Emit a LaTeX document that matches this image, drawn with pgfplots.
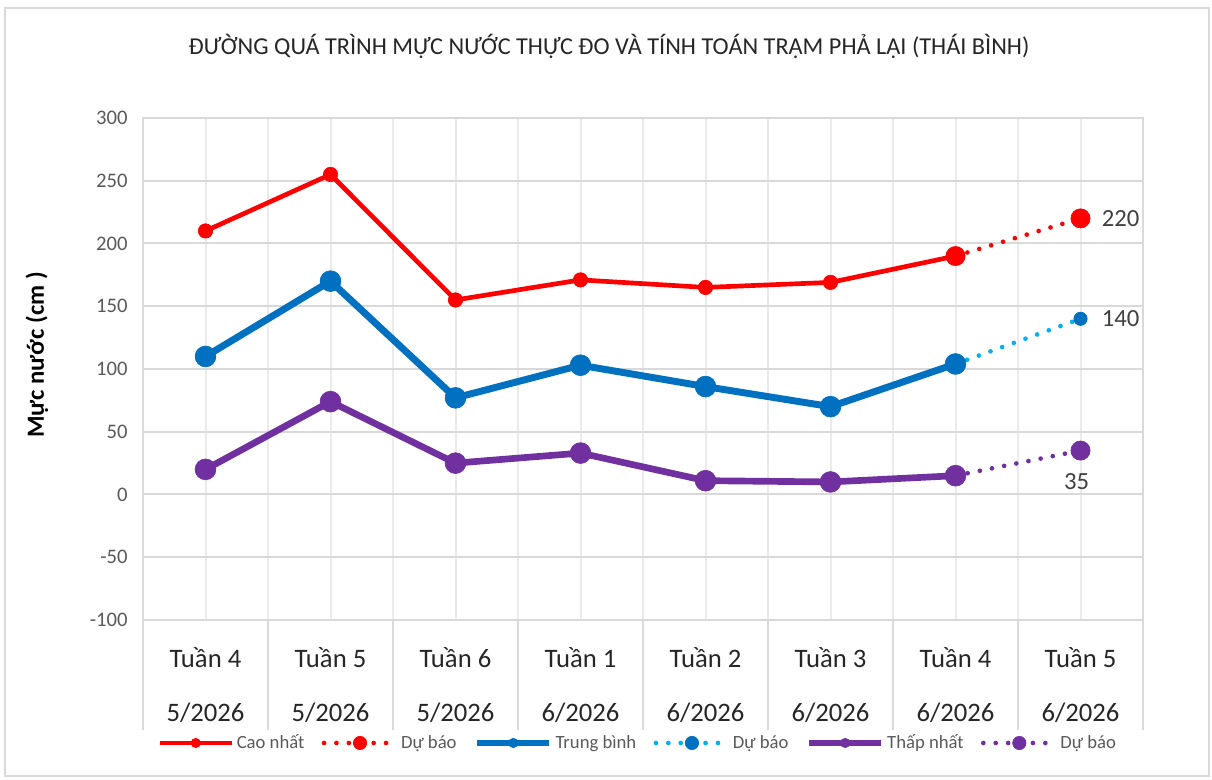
\documentclass[border=0pt]{standalone}
\usepackage{pgfplots}
\pgfplotsset{compat=1.18}
\usepackage{fontspec}
\setmainfont{Carlito}
\definecolor{cred}{HTML}{FF0000}
\definecolor{cblue}{HTML}{0070C0}
\definecolor{clblue}{HTML}{00B0F0}
\definecolor{cpurple}{HTML}{7030A0}
\definecolor{gridc}{HTML}{D9D9D9}
\definecolor{gridv}{HTML}{EBEBEB}
\definecolor{tickc}{HTML}{595959}
\definecolor{titlec}{HTML}{262626}
\definecolor{labc}{HTML}{404040}
\pgfplotsset{
  dotlegend/.style={legend image code/.code={\draw[mark repeat=2,mark phase=2,##1,mark size=5pt] plot coordinates {(0pt,0pt) (27pt,0pt) (54pt,0pt)};}},
  dotlegendb/.style={legend image code/.code={\draw[##1,mark indices={2},mark size=5pt] plot coordinates {(0pt,0pt) (27pt,0pt) (54pt,0pt)};}},
}
\begin{document}
\begin{tikzpicture}
\path (0pt,0pt) rectangle (909pt,585pt);
\draw[gridc, line width=1.5pt] (3.75pt,3pt) rectangle (906.75pt,579pt);
\node[font=\fontsize{18.2}{21}\selectfont, text=titlec] at (456.75pt,550.5pt) {ĐƯỜNG QUÁ TRÌNH MỰC NƯỚC THỰC ĐO VÀ TÍNH TOÁN TRẠM PHẢ LẠI (THÁI BÌNH)};
\begin{axis}[
  at={(107.25pt,120pt)}, anchor=south west,
  scale only axis, width=750pt, height=376.5pt,
  xmin=-0.5, xmax=7.5, ymin=-100, ymax=300,
  ytick={-100,-50,...,300},
  xtick={0,...,7},
  minor xtick={-0.5,0.5,...,7.5},
  xticklabels={{Tuần 4\\5/2026},{Tuần 5\\5/2026},{Tuần 6\\5/2026},{Tuần 1\\6/2026},{Tuần 2\\6/2026},{Tuần 3\\6/2026},{Tuần 4\\6/2026},{Tuần 5\\6/2026}},
  xticklabel style={align=center, font=\fontsize{20}{40.5}\selectfont, text=titlec, yshift=-17pt},
  yticklabel style={font=\fontsize{15.5}{18}\selectfont, text=tickc, xshift=-8pt},
  /pgf/number format/assume math mode=true,
  ymajorgrids, xmajorgrids, xminorgrids,
  major y grid style={gridc, line width=1.5pt},
  major x grid style={gridv, line width=1.5pt},
  minor x grid style={gridv, line width=1.5pt},
  axis line style={gridc, line width=1.5pt},
  tick pos=left, tick align=outside,
  major tick length=0pt,
  minor tick length=82.5pt,
  minor x tick style={gridc, line width=1.5pt},
  every axis y label/.style={at={(axis description cs:-0.106,0.528)}, rotate=90, anchor=center},
  ylabel={Mực nước (cm )},
  ylabel style={font=\fontsize{18.5}{20}\selectfont\bfseries, text=black},
  legend columns=6,
  legend style={at={(axis description cs:0.495,-0.245)}, anchor=center, draw=none, fill=none,
    font=\fontsize{14}{16}\selectfont, text=tickc,
    /tikz/every even column/.append style={column sep=11pt}},
  legend cell align=left,
  legend image code/.code={\draw[mark repeat=2,mark phase=2,#1,mark size=3.5pt] plot coordinates {(0pt,0pt) (27pt,0pt) (54pt,0pt)};},
  clip=false,
]
\addplot[cred, line width=3.5pt, mark=*, mark size=5.4pt, mark options={solid, line width=0.5pt}]
  coordinates {(0,210) (1,255) (2,155) (3,171) (4,165) (5,169) (6,190)};
\addlegendentry{Cao nhất}
\addplot[cred, line width=3.5pt, dash pattern=on 0pt off 9.3pt, line cap=round, mark=*, mark size=7.2pt, mark options={solid, line width=0.5pt}, dotlegend]
  coordinates {(6,190) (7,220)} node[pos=1, anchor=west, xshift=11pt, font=\fontsize{18.5}{20}\selectfont, text=labc] {220};
\addlegendentry{Dự báo}
\addplot[cblue, line width=5.2pt, mark=*, mark size=7.8pt, mark options={solid, line width=0.5pt}]
  coordinates {(0,110) (1,170) (2,77) (3,103) (4,86) (5,70) (6,104)};
\addlegendentry{Trung bình}
\addplot[clblue, line width=3.5pt, dash pattern=on 0pt off 9.3pt, line cap=round, mark=*, mark size=5pt, mark indices={2}, mark options={solid, line width=0.5pt, draw=cblue, fill=cblue}, dotlegendb]
  coordinates {(6,104) (7,140)} node[pos=1, anchor=west, xshift=11pt, font=\fontsize{18.5}{20}\selectfont, text=labc] {140};
\addlegendentry{Dự báo}
\addplot[cpurple, line width=5pt, mark=*, mark size=7.8pt, mark options={solid, line width=0.5pt}]
  coordinates {(0,20) (1,74) (2,25) (3,33) (4,11) (5,10) (6,15)};
\addlegendentry{Thấp nhất}
\addplot[cpurple, line width=3.5pt, dash pattern=on 0pt off 9.3pt, line cap=round, mark=*, mark size=7.2pt, mark options={solid, line width=0.5pt}, dotlegend]
  coordinates {(6,15) (7,35)} node[pos=1, anchor=north, yshift=-12pt, xshift=-3pt, font=\fontsize{18.5}{20}\selectfont, text=labc] {35};
\addlegendentry{Dự báo}
\end{axis}
\end{tikzpicture}
\end{document}
